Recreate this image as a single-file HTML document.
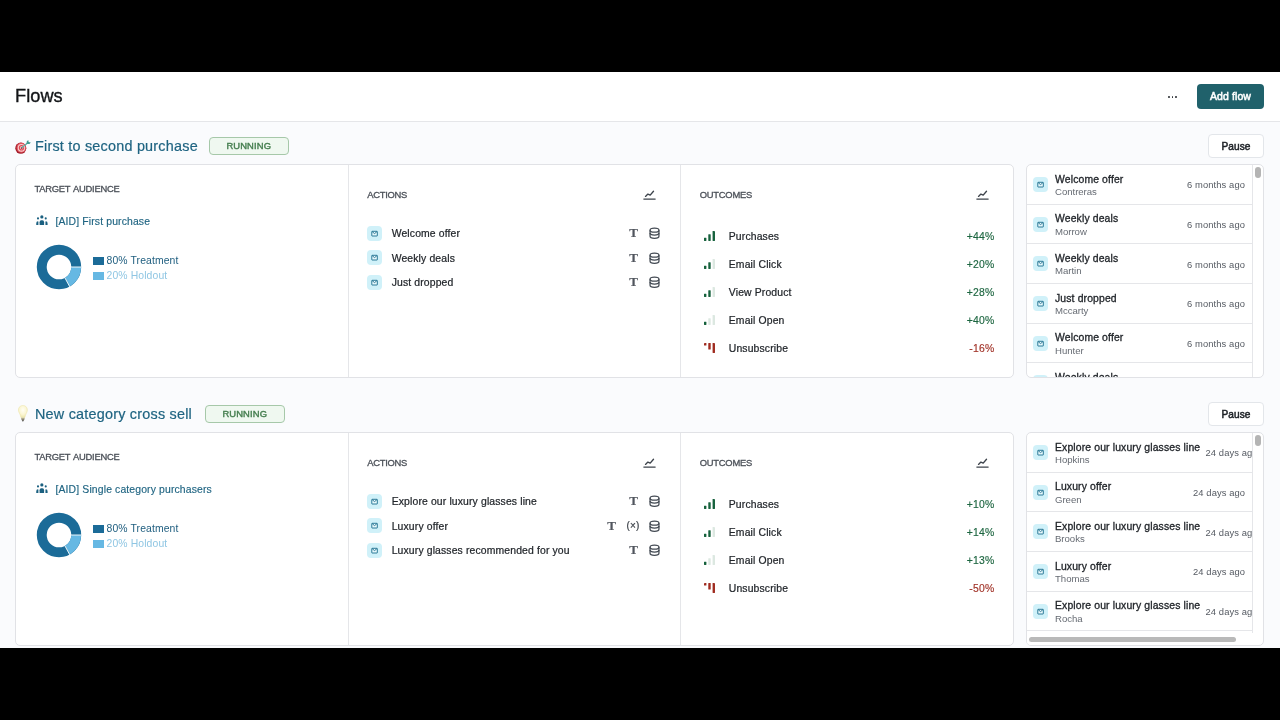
<!DOCTYPE html>
<html lang="en">
<head>
<meta charset="utf-8">
<title>Flows</title>
<style>
*{box-sizing:border-box;margin:0;padding:0}
html,body{width:1280px;height:720px;overflow:hidden;background:#000}
body{font-family:"Liberation Sans",sans-serif;color:#1f2328;position:relative}
.app{position:absolute;left:0;top:72px;width:1280px;height:576px;background:#fafbfd;overflow:hidden}
.abs{position:absolute}
.hdr{position:absolute;left:0;top:0;width:1280px;height:50px;background:#fff;border-bottom:1px solid #e5e6e9}
.hdr h1{position:absolute;left:15px;top:12.8px;font-size:18.2px;line-height:22px;font-weight:400;color:#121417;letter-spacing:0.05px;-webkit-text-stroke:0.35px #121417}
.dots{position:absolute;left:1168px;top:23.8px;width:10px;height:2px}
.dots i{position:absolute;top:0;width:1.8px;height:1.8px;border-radius:50%;background:#2a2e33}
.btn{position:absolute;border-radius:4px;font-size:10.5px;font-weight:400;text-align:center;white-space:nowrap}
.add{left:1197px;top:12px;width:67px;height:24.5px;line-height:24.5px;background:#20616b;color:#fff;font-size:10.5px;letter-spacing:0.1px;-webkit-text-stroke:0.5px #fff}
.pause{left:1208px;width:56px;height:24px;line-height:23.4px;background:#fff;border:1px solid #e3e6ea;color:#1d2126;font-size:10.1px;letter-spacing:0.06px;-webkit-text-stroke:0.5px #1d2126}
.ftitle{position:absolute;left:35px;font-size:14.4px;letter-spacing:0.22px;line-height:20px;color:#1f6482;white-space:nowrap;-webkit-text-stroke:0.2px #1f6482}
.badge{position:absolute;height:18px;line-height:15.2px;border:1px solid #a6c8a9;background:#eff8f0;border-radius:4px;color:#467f50;font-size:9.4px;font-weight:400;text-align:center;letter-spacing:0.12px;-webkit-text-stroke:0.42px #467f50}
.card{position:absolute;left:15px;width:999px;height:214px;background:#fff;border:1px solid #e1e2e6;border-radius:5px}
.card .v{position:absolute;top:0;width:1px;height:212px;background:#e5e6e9}
.lbl{position:absolute;font-size:9.4px;line-height:12px;font-weight:400;color:#4b5058;letter-spacing:-0.25px;word-spacing:1px;white-space:nowrap;-webkit-text-stroke:0.3px #4b5058}
.aud{position:absolute;left:40px;font-size:10.4px;letter-spacing:0.14px;line-height:14px;color:#1f6482;white-space:nowrap;-webkit-text-stroke:0.15px #1f6482}
.leg{position:absolute;left:77px;font-size:10.4px;letter-spacing:0.12px;line-height:13px;white-space:nowrap}
.leg i{position:absolute;left:0;top:3.5px;width:10.5px;height:7.5px}
.leg span{position:absolute;left:13.5px;top:0}
.row{position:absolute;left:0;height:16px}
.ico{position:absolute;width:15px;height:15px;border-radius:4px;background:#d0f1f9}
.ico svg{position:absolute;left:0;top:0}
.atxt{position:absolute;font-size:10.4px;letter-spacing:0.14px;line-height:14px;color:#22262b;white-space:nowrap;-webkit-text-stroke:0.22px #22262b}
.tt{position:absolute;font-family:"Liberation Serif",serif;font-weight:700;font-size:13px;line-height:14px;color:#50555d;-webkit-text-stroke:0.18px #50555d}
.pct{position:absolute;font-size:10.4px;letter-spacing:0.25px;line-height:14px;text-align:right;white-space:nowrap;-webkit-text-stroke:0.15px currentColor}
.g{color:#1d6640}.r{color:#a13328}
.list{position:absolute;left:1026px;width:238px;height:214px;background:#fff;border:1px solid #e1e2e6;border-radius:5px;overflow:hidden}
.list .in{position:absolute;left:0;top:0;width:226px;height:212px;border-right:1px solid #e5e6e9;overflow:hidden}
.li{position:absolute;left:0;width:260px;height:39.65px;border-bottom:1px solid #e5e6e9}
.li .t{position:absolute;left:28px;top:7.6px;font-size:10.4px;letter-spacing:0.14px;line-height:14px;color:#1f2328;white-space:nowrap;-webkit-text-stroke:0.32px #1f2328}
.li .s{position:absolute;left:28px;top:20.2px;font-size:9.6px;letter-spacing:-0.03px;line-height:13px;color:#666b73;white-space:nowrap}
.li .d{position:absolute;top:13.4px;font-size:9.4px;line-height:14px;color:#555a62;white-space:nowrap;letter-spacing:0.1px}
.sbv{position:absolute;left:228px;top:1.7px;width:5.5px;height:11.8px;border-radius:3px;background:#b4b4b4}
.sbh{position:absolute;left:2px;top:203.6px;width:207px;height:5.5px;border-radius:3px;background:#b9b9b9}
</style>
</head>
<body>
<div class="app">
  <div class="hdr">
    <h1>Flows</h1>
    <div class="dots"><i style="left:0"></i><i style="left:3.6px"></i><i style="left:7.2px"></i></div>
    <div class="btn add">Add flow</div>
  </div>

  <!-- FLOW 1 -->
<div class="abs" style="left:0;top:92px;width:1280px;height:300px">
<svg class="abs" style="left:15.2px;top:-24.3px" width="17" height="14" viewBox="0 0 17 14"><ellipse cx="5.8" cy="8.2" rx="5.5" ry="5.6" fill="#a11c2a"/><ellipse cx="6.3" cy="7.8" rx="4.8" ry="5" fill="#e0525b"/><ellipse cx="6.4" cy="7.8" rx="3.7" ry="3.9" fill="#f7cfd1"/><ellipse cx="6.5" cy="7.8" rx="2.7" ry="2.8" fill="#dc4852"/><ellipse cx="6.6" cy="7.8" rx="1.7" ry="1.7" fill="#f5bfc3"/><ellipse cx="6.7" cy="7.9" rx="0.85" ry="0.85" fill="#8a1320"/><path d="M7 7.5 L12.6 2.9" stroke="#62b0a4" stroke-width="1.3" stroke-linecap="round"/><path d="M11.4 3.9 L11.9 1 L13.4 0.3 L13.6 2 L15.8 2.5 L14.5 4.1 Z" fill="#3f9c93"/></svg>
<div class="ftitle" style="top:-28.1px">First to second purchase</div>
<div class="badge" style="left:209px;top:-27px;width:79.5px">RUNNING</div>
<div class="btn pause" style="top:-30px">Pause</div>
<div class="card" style="top:0"><div class="v" style="left:332px"></div><div class="v" style="left:664px"></div></div>
<div class="lbl" style="left:34.5px;top:19.3px">TARGET AUDIENCE</div>
<svg class="abs" style="left:35.8px;top:51.2px" width="12.2" height="11" viewBox="0 0 12.2 11" fill="#1b6080"><circle cx="5.85" cy="1.9" r="1.6"/><path d="M3.6 10.05 V7.3 Q3.6 5.3 5.3 5.3 H6.4 Q8.1 5.3 8.1 7.3 V10.05 Z"/><circle cx="2" cy="3.4" r="1.05"/><path d="M0.25 10.05 V8.4 Q0.25 6.3 1.9 6.2 Q2.5 6.2 2.4 6.9 V10.05 Z"/><circle cx="9.75" cy="3.4" r="1.05"/><path d="M11.6 10.05 V8.4 Q11.6 6.3 9.95 6.2 Q9.35 6.2 9.45 6.9 V10.05 Z"/></svg>
<div class="aud" style="left:55.5px;top:51.4px">[AID] First purchase</div>
<svg class="abs" style="left:35.1px;top:78.8px" width="48" height="48" viewBox="-24 -24 48 48"><circle cx="0" cy="0" r="17.25" fill="none" stroke="#1b6b98" stroke-width="9.90"/><path d="M22.20 0.00 A22.2 22.2 0 0 1 10.59 19.51 L5.87 10.81 A12.3 12.3 0 0 0 12.30 0.00 Z" fill="#66b8e3"/><path d="M11.80 0.00 L22.70 0.00 M5.63 10.37 L10.83 19.95" stroke="#fff" stroke-width="0.9"/></svg>
<div class="leg" style="left:93px;top:89.7px;color:#205f80"><i style="background:#1b6b98"></i><span>80% Treatment</span></div>
<div class="leg" style="left:93px;top:104.8px;color:#8fc6e3"><i style="background:#66b8e3"></i><span>20% Holdout</span></div>
<div class="lbl" style="left:367.2px;top:25.3px">ACTIONS</div>
<svg class="abs" style="left:643.3px;top:26.3px" width="13" height="10" viewBox="0 0 13 10" fill="none" stroke="#3d434b" stroke-linecap="round" stroke-linejoin="round"><path d="M2.5 6.4 L4.9 4.1 L7.2 5.1 L10.5 1.2" stroke-width="1.35"/><path d="M0.8 9.1 H12.2" stroke-width="1.1"/></svg>
<div class="ico" style="left:367.2px;top:61.8px"><svg width="15" height="15" viewBox="0 0 15 15"><rect x="4.8" y="5.3" width="5.5" height="4.7" rx="0.25" fill="#eafafd" stroke="#2a7a98" stroke-width="1"/><path d="M5.3 5.8 L7.55 7.6 L9.8 5.8" fill="none" stroke="#1c6c8c" stroke-width="0.9" stroke-linejoin="round"/></svg></div>
<div class="atxt" style="left:391.7px;top:63.2px">Welcome offer</div>
<div class="tt" style="left:629.3px;top:62.4px">T</div>
<svg class="abs" style="left:648.8px;top:64.2px;overflow:visible" width="11" height="11.4" viewBox="0 0 11 11.4" fill="none" stroke="#434a53" stroke-width="1.25"><ellipse cx="5.5" cy="2.2" rx="4.45" ry="2.05"/><path d="M1.05 2.2 V8.3 C1.05 9.5 3 10.35 5.5 10.35 C8 10.35 9.95 9.5 9.95 8.3 V2.2"/><path d="M1.05 5.1 C1.05 6.3 3 7.1 5.5 7.1 C8 7.1 9.95 6.3 9.95 5.1"/></svg>
<div class="ico" style="left:367.2px;top:86.2px"><svg width="15" height="15" viewBox="0 0 15 15"><rect x="4.8" y="5.3" width="5.5" height="4.7" rx="0.25" fill="#eafafd" stroke="#2a7a98" stroke-width="1"/><path d="M5.3 5.8 L7.55 7.6 L9.8 5.8" fill="none" stroke="#1c6c8c" stroke-width="0.9" stroke-linejoin="round"/></svg></div>
<div class="atxt" style="left:391.7px;top:87.6px">Weekly deals</div>
<div class="tt" style="left:629.3px;top:86.8px">T</div>
<svg class="abs" style="left:648.8px;top:88.6px;overflow:visible" width="11" height="11.4" viewBox="0 0 11 11.4" fill="none" stroke="#434a53" stroke-width="1.25"><ellipse cx="5.5" cy="2.2" rx="4.45" ry="2.05"/><path d="M1.05 2.2 V8.3 C1.05 9.5 3 10.35 5.5 10.35 C8 10.35 9.95 9.5 9.95 8.3 V2.2"/><path d="M1.05 5.1 C1.05 6.3 3 7.1 5.5 7.1 C8 7.1 9.95 6.3 9.95 5.1"/></svg>
<div class="ico" style="left:367.2px;top:110.6px"><svg width="15" height="15" viewBox="0 0 15 15"><rect x="4.8" y="5.3" width="5.5" height="4.7" rx="0.25" fill="#eafafd" stroke="#2a7a98" stroke-width="1"/><path d="M5.3 5.8 L7.55 7.6 L9.8 5.8" fill="none" stroke="#1c6c8c" stroke-width="0.9" stroke-linejoin="round"/></svg></div>
<div class="atxt" style="left:391.7px;top:112.0px">Just dropped</div>
<div class="tt" style="left:629.3px;top:111.2px">T</div>
<svg class="abs" style="left:648.8px;top:113.0px;overflow:visible" width="11" height="11.4" viewBox="0 0 11 11.4" fill="none" stroke="#434a53" stroke-width="1.25"><ellipse cx="5.5" cy="2.2" rx="4.45" ry="2.05"/><path d="M1.05 2.2 V8.3 C1.05 9.5 3 10.35 5.5 10.35 C8 10.35 9.95 9.5 9.95 8.3 V2.2"/><path d="M1.05 5.1 C1.05 6.3 3 7.1 5.5 7.1 C8 7.1 9.95 6.3 9.95 5.1"/></svg>
<div class="lbl" style="left:699.8px;top:25.3px">OUTCOMES</div>
<svg class="abs" style="left:976.3px;top:26.3px" width="13" height="10" viewBox="0 0 13 10" fill="none" stroke="#3d434b" stroke-linecap="round" stroke-linejoin="round"><path d="M2.5 6.4 L4.9 4.1 L7.2 5.1 L10.5 1.2" stroke-width="1.35"/><path d="M0.8 9.1 H12.2" stroke-width="1.1"/></svg>
<svg class="abs" style="left:703.7px;top:66.5px" width="11.2" height="10" viewBox="0 0 11.2 10"><rect x="0.0" y="6.7" width="2.4" height="3.3" rx="0.4" fill="#17623d"/><rect x="4.3" y="3.3" width="2.4" height="6.7" rx="0.4" fill="#17623d"/><rect x="8.6" y="0.0" width="2.4" height="10" rx="0.4" fill="#17623d"/></svg>
<div class="atxt" style="left:728.8px;top:65.6px">Purchases</div>
<div class="pct g" style="left:940px;width:54.5px;top:65.6px">+44%</div>
<svg class="abs" style="left:703.7px;top:94.7px" width="11.2" height="10" viewBox="0 0 11.2 10"><rect x="0.0" y="6.7" width="2.4" height="3.3" rx="0.4" fill="#17623d"/><rect x="4.3" y="3.3" width="2.4" height="6.7" rx="0.4" fill="#17623d"/><rect x="8.6" y="0.0" width="2.4" height="10" rx="0.4" fill="#dce8e1"/></svg>
<div class="atxt" style="left:728.8px;top:93.8px">Email Click</div>
<div class="pct g" style="left:940px;width:54.5px;top:93.8px">+20%</div>
<svg class="abs" style="left:703.7px;top:122.8px" width="11.2" height="10" viewBox="0 0 11.2 10"><rect x="0.0" y="6.7" width="2.4" height="3.3" rx="0.4" fill="#17623d"/><rect x="4.3" y="3.3" width="2.4" height="6.7" rx="0.4" fill="#17623d"/><rect x="8.6" y="0.0" width="2.4" height="10" rx="0.4" fill="#dce8e1"/></svg>
<div class="atxt" style="left:728.8px;top:121.9px">View Product</div>
<div class="pct g" style="left:940px;width:54.5px;top:121.9px">+28%</div>
<svg class="abs" style="left:703.7px;top:150.9px" width="11.2" height="10" viewBox="0 0 11.2 10"><rect x="0.0" y="6.7" width="2.4" height="3.3" rx="0.4" fill="#17623d"/><rect x="4.3" y="3.3" width="2.4" height="6.7" rx="0.4" fill="#dce8e1"/><rect x="8.6" y="0.0" width="2.4" height="10" rx="0.4" fill="#dce8e1"/></svg>
<div class="atxt" style="left:728.8px;top:150.0px">Email Open</div>
<div class="pct g" style="left:940px;width:54.5px;top:150.0px">+40%</div>
<svg class="abs" style="left:703.7px;top:179.3px" width="11.2" height="10" viewBox="0 0 11.2 10"><rect x="0.0" y="0" width="2.4" height="2.6" rx="0.4" fill="#a02c20"/><rect x="4.3" y="0" width="2.4" height="6.6" rx="0.4" fill="#a02c20"/><rect x="8.6" y="0" width="2.4" height="10" rx="0.4" fill="#a02c20"/></svg>
<div class="atxt" style="left:728.8px;top:178.2px">Unsubscribe</div>
<div class="pct r" style="left:940px;width:54.5px;top:178.2px">-16%</div>
<div class="list" style="top:0"><div class="in">
<div class="li" style="top:0.00px"><div class="ico" style="left:6.1px;top:12.1px"><svg width="15" height="15" viewBox="0 0 15 15"><rect x="4.8" y="5.3" width="5.5" height="4.7" rx="0.25" fill="#eafafd" stroke="#2a7a98" stroke-width="1"/><path d="M5.3 5.8 L7.55 7.6 L9.8 5.8" fill="none" stroke="#1c6c8c" stroke-width="0.9" stroke-linejoin="round"/></svg></div><div class="t">Welcome offer</div><div class="s">Contreras</div><div class="d" style="left:160px">6 months ago</div></div>
<div class="li" style="top:39.65px"><div class="ico" style="left:6.1px;top:12.1px"><svg width="15" height="15" viewBox="0 0 15 15"><rect x="4.8" y="5.3" width="5.5" height="4.7" rx="0.25" fill="#eafafd" stroke="#2a7a98" stroke-width="1"/><path d="M5.3 5.8 L7.55 7.6 L9.8 5.8" fill="none" stroke="#1c6c8c" stroke-width="0.9" stroke-linejoin="round"/></svg></div><div class="t">Weekly deals</div><div class="s">Morrow</div><div class="d" style="left:160px">6 months ago</div></div>
<div class="li" style="top:79.30px"><div class="ico" style="left:6.1px;top:12.1px"><svg width="15" height="15" viewBox="0 0 15 15"><rect x="4.8" y="5.3" width="5.5" height="4.7" rx="0.25" fill="#eafafd" stroke="#2a7a98" stroke-width="1"/><path d="M5.3 5.8 L7.55 7.6 L9.8 5.8" fill="none" stroke="#1c6c8c" stroke-width="0.9" stroke-linejoin="round"/></svg></div><div class="t">Weekly deals</div><div class="s">Martin</div><div class="d" style="left:160px">6 months ago</div></div>
<div class="li" style="top:118.95px"><div class="ico" style="left:6.1px;top:12.1px"><svg width="15" height="15" viewBox="0 0 15 15"><rect x="4.8" y="5.3" width="5.5" height="4.7" rx="0.25" fill="#eafafd" stroke="#2a7a98" stroke-width="1"/><path d="M5.3 5.8 L7.55 7.6 L9.8 5.8" fill="none" stroke="#1c6c8c" stroke-width="0.9" stroke-linejoin="round"/></svg></div><div class="t">Just dropped</div><div class="s">Mccarty</div><div class="d" style="left:160px">6 months ago</div></div>
<div class="li" style="top:158.60px"><div class="ico" style="left:6.1px;top:12.1px"><svg width="15" height="15" viewBox="0 0 15 15"><rect x="4.8" y="5.3" width="5.5" height="4.7" rx="0.25" fill="#eafafd" stroke="#2a7a98" stroke-width="1"/><path d="M5.3 5.8 L7.55 7.6 L9.8 5.8" fill="none" stroke="#1c6c8c" stroke-width="0.9" stroke-linejoin="round"/></svg></div><div class="t">Welcome offer</div><div class="s">Hunter</div><div class="d" style="left:160px">6 months ago</div></div>
<div class="li" style="top:198.25px"><div class="ico" style="left:6.1px;top:12.1px"><svg width="15" height="15" viewBox="0 0 15 15"><rect x="4.8" y="5.3" width="5.5" height="4.7" rx="0.25" fill="#eafafd" stroke="#2a7a98" stroke-width="1"/><path d="M5.3 5.8 L7.55 7.6 L9.8 5.8" fill="none" stroke="#1c6c8c" stroke-width="0.9" stroke-linejoin="round"/></svg></div><div class="t">Weekly deals</div><div class="s">Bishop</div><div class="d" style="left:160px">6 months ago</div></div>
</div><div class="sbv"></div>
</div>
</div>
  <!-- FLOW 2 -->
<div class="abs" style="left:0;top:360px;width:1280px;height:300px">
<svg class="abs" style="left:17.2px;top:-26.7px" width="12" height="17" viewBox="0 0 12 17"><defs><radialGradient id="bg1" cx="0.5" cy="0.38" r="0.62"><stop offset="0" stop-color="#fffef4"/><stop offset="0.6" stop-color="#fbf6d4"/><stop offset="1" stop-color="#eee6ac"/></radialGradient><linearGradient id="bg2" x1="0" y1="0" x2="0" y2="1"><stop offset="0" stop-color="#d9d2a8"/><stop offset="0.45" stop-color="#8f8a78"/><stop offset="1" stop-color="#2f2f2f"/></linearGradient></defs><path d="M5.9 0.5 C8.6 0.5 10.4 2.4 10.4 5 C10.4 7.6 8.5 8.8 7.9 12.4 H3.9 C3.3 8.8 1.4 7.6 1.4 5 C1.4 2.4 3.2 0.5 5.9 0.5 Z" fill="url(#bg1)" stroke="#ece4a8" stroke-width="0.5"/><path d="M3.9 12.4 H7.9 L7.3 14.7 L5.9 16.7 L4.5 14.7 Z" fill="url(#bg2)"/></svg>
<div class="ftitle" style="top:-28.1px">New category cross sell</div>
<div class="badge" style="left:205px;top:-27px;width:79.5px">RUNNING</div>
<div class="btn pause" style="top:-30px">Pause</div>
<div class="card" style="top:0"><div class="v" style="left:332px"></div><div class="v" style="left:664px"></div></div>
<div class="lbl" style="left:34.5px;top:19.3px">TARGET AUDIENCE</div>
<svg class="abs" style="left:35.8px;top:51.2px" width="12.2" height="11" viewBox="0 0 12.2 11" fill="#1b6080"><circle cx="5.85" cy="1.9" r="1.6"/><path d="M3.6 10.05 V7.3 Q3.6 5.3 5.3 5.3 H6.4 Q8.1 5.3 8.1 7.3 V10.05 Z"/><circle cx="2" cy="3.4" r="1.05"/><path d="M0.25 10.05 V8.4 Q0.25 6.3 1.9 6.2 Q2.5 6.2 2.4 6.9 V10.05 Z"/><circle cx="9.75" cy="3.4" r="1.05"/><path d="M11.6 10.05 V8.4 Q11.6 6.3 9.95 6.2 Q9.35 6.2 9.45 6.9 V10.05 Z"/></svg>
<div class="aud" style="left:55.5px;top:51.4px">[AID] Single category purchasers</div>
<svg class="abs" style="left:35.1px;top:78.8px" width="48" height="48" viewBox="-24 -24 48 48"><circle cx="0" cy="0" r="17.25" fill="none" stroke="#1b6b98" stroke-width="9.90"/><path d="M22.20 0.00 A22.2 22.2 0 0 1 10.59 19.51 L5.87 10.81 A12.3 12.3 0 0 0 12.30 0.00 Z" fill="#66b8e3"/><path d="M11.80 0.00 L22.70 0.00 M5.63 10.37 L10.83 19.95" stroke="#fff" stroke-width="0.9"/></svg>
<div class="leg" style="left:93px;top:89.7px;color:#205f80"><i style="background:#1b6b98"></i><span>80% Treatment</span></div>
<div class="leg" style="left:93px;top:104.8px;color:#8fc6e3"><i style="background:#66b8e3"></i><span>20% Holdout</span></div>
<div class="lbl" style="left:367.2px;top:25.3px">ACTIONS</div>
<svg class="abs" style="left:643.3px;top:26.3px" width="13" height="10" viewBox="0 0 13 10" fill="none" stroke="#3d434b" stroke-linecap="round" stroke-linejoin="round"><path d="M2.5 6.4 L4.9 4.1 L7.2 5.1 L10.5 1.2" stroke-width="1.35"/><path d="M0.8 9.1 H12.2" stroke-width="1.1"/></svg>
<div class="ico" style="left:367.2px;top:61.8px"><svg width="15" height="15" viewBox="0 0 15 15"><rect x="4.8" y="5.3" width="5.5" height="4.7" rx="0.25" fill="#eafafd" stroke="#2a7a98" stroke-width="1"/><path d="M5.3 5.8 L7.55 7.6 L9.8 5.8" fill="none" stroke="#1c6c8c" stroke-width="0.9" stroke-linejoin="round"/></svg></div>
<div class="atxt" style="left:391.7px;top:63.2px">Explore our luxury glasses line</div>
<div class="tt" style="left:629.3px;top:62.4px">T</div>
<svg class="abs" style="left:648.8px;top:64.2px;overflow:visible" width="11" height="11.4" viewBox="0 0 11 11.4" fill="none" stroke="#434a53" stroke-width="1.25"><ellipse cx="5.5" cy="2.2" rx="4.45" ry="2.05"/><path d="M1.05 2.2 V8.3 C1.05 9.5 3 10.35 5.5 10.35 C8 10.35 9.95 9.5 9.95 8.3 V2.2"/><path d="M1.05 5.1 C1.05 6.3 3 7.1 5.5 7.1 C8 7.1 9.95 6.3 9.95 5.1"/></svg>
<div class="ico" style="left:367.2px;top:86.2px"><svg width="15" height="15" viewBox="0 0 15 15"><rect x="4.8" y="5.3" width="5.5" height="4.7" rx="0.25" fill="#eafafd" stroke="#2a7a98" stroke-width="1"/><path d="M5.3 5.8 L7.55 7.6 L9.8 5.8" fill="none" stroke="#1c6c8c" stroke-width="0.9" stroke-linejoin="round"/></svg></div>
<div class="atxt" style="left:391.7px;top:87.6px">Luxury offer</div>
<div class="tt" style="left:607.3px;top:86.8px">T</div>
<div class="atxt" style="left:626.5px;top:86.9px;font-size:10px;color:#4a515a;letter-spacing:0.2px">(&times;)</div>
<svg class="abs" style="left:648.8px;top:88.6px;overflow:visible" width="11" height="11.4" viewBox="0 0 11 11.4" fill="none" stroke="#434a53" stroke-width="1.25"><ellipse cx="5.5" cy="2.2" rx="4.45" ry="2.05"/><path d="M1.05 2.2 V8.3 C1.05 9.5 3 10.35 5.5 10.35 C8 10.35 9.95 9.5 9.95 8.3 V2.2"/><path d="M1.05 5.1 C1.05 6.3 3 7.1 5.5 7.1 C8 7.1 9.95 6.3 9.95 5.1"/></svg>
<div class="ico" style="left:367.2px;top:110.6px"><svg width="15" height="15" viewBox="0 0 15 15"><rect x="4.8" y="5.3" width="5.5" height="4.7" rx="0.25" fill="#eafafd" stroke="#2a7a98" stroke-width="1"/><path d="M5.3 5.8 L7.55 7.6 L9.8 5.8" fill="none" stroke="#1c6c8c" stroke-width="0.9" stroke-linejoin="round"/></svg></div>
<div class="atxt" style="left:391.7px;top:112.0px">Luxury glasses recommended for you</div>
<div class="tt" style="left:629.3px;top:111.2px">T</div>
<svg class="abs" style="left:648.8px;top:113.0px;overflow:visible" width="11" height="11.4" viewBox="0 0 11 11.4" fill="none" stroke="#434a53" stroke-width="1.25"><ellipse cx="5.5" cy="2.2" rx="4.45" ry="2.05"/><path d="M1.05 2.2 V8.3 C1.05 9.5 3 10.35 5.5 10.35 C8 10.35 9.95 9.5 9.95 8.3 V2.2"/><path d="M1.05 5.1 C1.05 6.3 3 7.1 5.5 7.1 C8 7.1 9.95 6.3 9.95 5.1"/></svg>
<div class="lbl" style="left:699.8px;top:25.3px">OUTCOMES</div>
<svg class="abs" style="left:976.3px;top:26.3px" width="13" height="10" viewBox="0 0 13 10" fill="none" stroke="#3d434b" stroke-linecap="round" stroke-linejoin="round"><path d="M2.5 6.4 L4.9 4.1 L7.2 5.1 L10.5 1.2" stroke-width="1.35"/><path d="M0.8 9.1 H12.2" stroke-width="1.1"/></svg>
<svg class="abs" style="left:703.7px;top:66.5px" width="11.2" height="10" viewBox="0 0 11.2 10"><rect x="0.0" y="6.7" width="2.4" height="3.3" rx="0.4" fill="#17623d"/><rect x="4.3" y="3.3" width="2.4" height="6.7" rx="0.4" fill="#17623d"/><rect x="8.6" y="0.0" width="2.4" height="10" rx="0.4" fill="#17623d"/></svg>
<div class="atxt" style="left:728.8px;top:65.6px">Purchases</div>
<div class="pct g" style="left:940px;width:54.5px;top:65.6px">+10%</div>
<svg class="abs" style="left:703.7px;top:94.7px" width="11.2" height="10" viewBox="0 0 11.2 10"><rect x="0.0" y="6.7" width="2.4" height="3.3" rx="0.4" fill="#17623d"/><rect x="4.3" y="3.3" width="2.4" height="6.7" rx="0.4" fill="#17623d"/><rect x="8.6" y="0.0" width="2.4" height="10" rx="0.4" fill="#dce8e1"/></svg>
<div class="atxt" style="left:728.8px;top:93.8px">Email Click</div>
<div class="pct g" style="left:940px;width:54.5px;top:93.8px">+14%</div>
<svg class="abs" style="left:703.7px;top:122.8px" width="11.2" height="10" viewBox="0 0 11.2 10"><rect x="0.0" y="6.7" width="2.4" height="3.3" rx="0.4" fill="#17623d"/><rect x="4.3" y="3.3" width="2.4" height="6.7" rx="0.4" fill="#dce8e1"/><rect x="8.6" y="0.0" width="2.4" height="10" rx="0.4" fill="#dce8e1"/></svg>
<div class="atxt" style="left:728.8px;top:121.9px">Email Open</div>
<div class="pct g" style="left:940px;width:54.5px;top:121.9px">+13%</div>
<svg class="abs" style="left:703.7px;top:151.1px" width="11.2" height="10" viewBox="0 0 11.2 10"><rect x="0.0" y="0" width="2.4" height="2.6" rx="0.4" fill="#a02c20"/><rect x="4.3" y="0" width="2.4" height="6.6" rx="0.4" fill="#a02c20"/><rect x="8.6" y="0" width="2.4" height="10" rx="0.4" fill="#a02c20"/></svg>
<div class="atxt" style="left:728.8px;top:150.0px">Unsubscribe</div>
<div class="pct r" style="left:940px;width:54.5px;top:150.0px">-50%</div>
<div class="list" style="top:0"><div class="in">
<div class="li" style="top:0.00px"><div class="ico" style="left:6.1px;top:12.1px"><svg width="15" height="15" viewBox="0 0 15 15"><rect x="4.8" y="5.3" width="5.5" height="4.7" rx="0.25" fill="#eafafd" stroke="#2a7a98" stroke-width="1"/><path d="M5.3 5.8 L7.55 7.6 L9.8 5.8" fill="none" stroke="#1c6c8c" stroke-width="0.9" stroke-linejoin="round"/></svg></div><div class="t">Explore our luxury glasses line</div><div class="s">Hopkins</div><div class="d" style="left:178.5px">24 days ago</div></div>
<div class="li" style="top:39.65px"><div class="ico" style="left:6.1px;top:12.1px"><svg width="15" height="15" viewBox="0 0 15 15"><rect x="4.8" y="5.3" width="5.5" height="4.7" rx="0.25" fill="#eafafd" stroke="#2a7a98" stroke-width="1"/><path d="M5.3 5.8 L7.55 7.6 L9.8 5.8" fill="none" stroke="#1c6c8c" stroke-width="0.9" stroke-linejoin="round"/></svg></div><div class="t">Luxury offer</div><div class="s">Green</div><div class="d" style="left:166px">24 days ago</div></div>
<div class="li" style="top:79.30px"><div class="ico" style="left:6.1px;top:12.1px"><svg width="15" height="15" viewBox="0 0 15 15"><rect x="4.8" y="5.3" width="5.5" height="4.7" rx="0.25" fill="#eafafd" stroke="#2a7a98" stroke-width="1"/><path d="M5.3 5.8 L7.55 7.6 L9.8 5.8" fill="none" stroke="#1c6c8c" stroke-width="0.9" stroke-linejoin="round"/></svg></div><div class="t">Explore our luxury glasses line</div><div class="s">Brooks</div><div class="d" style="left:178.5px">24 days ago</div></div>
<div class="li" style="top:118.95px"><div class="ico" style="left:6.1px;top:12.1px"><svg width="15" height="15" viewBox="0 0 15 15"><rect x="4.8" y="5.3" width="5.5" height="4.7" rx="0.25" fill="#eafafd" stroke="#2a7a98" stroke-width="1"/><path d="M5.3 5.8 L7.55 7.6 L9.8 5.8" fill="none" stroke="#1c6c8c" stroke-width="0.9" stroke-linejoin="round"/></svg></div><div class="t">Luxury offer</div><div class="s">Thomas</div><div class="d" style="left:166px">24 days ago</div></div>
<div class="li" style="top:158.60px"><div class="ico" style="left:6.1px;top:12.1px"><svg width="15" height="15" viewBox="0 0 15 15"><rect x="4.8" y="5.3" width="5.5" height="4.7" rx="0.25" fill="#eafafd" stroke="#2a7a98" stroke-width="1"/><path d="M5.3 5.8 L7.55 7.6 L9.8 5.8" fill="none" stroke="#1c6c8c" stroke-width="0.9" stroke-linejoin="round"/></svg></div><div class="t">Explore our luxury glasses line</div><div class="s">Rocha</div><div class="d" style="left:178.5px">24 days ago</div></div>
<div class="li" style="top:198.25px"><div class="ico" style="left:6.1px;top:12.1px"><svg width="15" height="15" viewBox="0 0 15 15"><rect x="4.8" y="5.3" width="5.5" height="4.7" rx="0.25" fill="#eafafd" stroke="#2a7a98" stroke-width="1"/><path d="M5.3 5.8 L7.55 7.6 L9.8 5.8" fill="none" stroke="#1c6c8c" stroke-width="0.9" stroke-linejoin="round"/></svg></div><div class="t">Luxury offer</div><div class="s">Walsh</div><div class="d" style="left:166px">24 days ago</div></div>
</div><div class="sbv"></div>
<div class="abs" style="left:0;top:200px;width:226px;height:12px;background:#fff"></div><div class="sbh"></div>
</div>
</div>
</div>
</body>
</html>
